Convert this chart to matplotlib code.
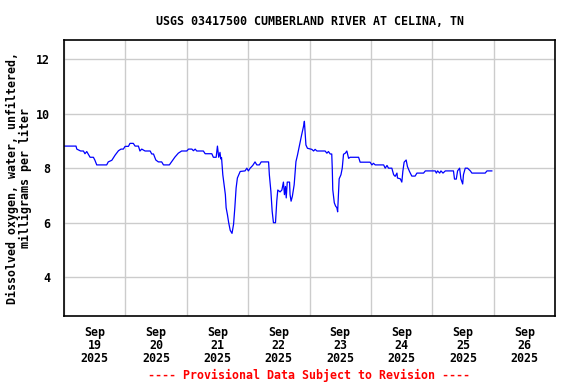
import matplotlib
matplotlib.use('Agg')
import matplotlib.pyplot as plt
import pandas as pd

# hours since 2025-09-19 00:00 and dissolved oxygen (mg/L)
hours = [0.0, 4.7, 5.0, 6.5, 7.6, 8.2, 8.9, 9.5, 10.2, 11.5, 12.1, 12.8, 16.7, 17.3, 18.7,
         20.0, 21.3, 22.3, 23.2, 23.9, 25.2, 25.8, 27.1, 27.8, 29.1, 29.7, 30.4, 31.7, 33.7,
         34.3, 35.0, 35.9, 36.9, 38.2, 38.9, 41.2, 42.1, 43.4, 44.7, 46.0, 48.0, 48.7, 50.0,
         50.6, 51.3, 51.9, 54.5, 55.2, 57.8, 58.4, 59.5, 60.0, 60.5, 61.0, 61.3, 61.6, 62.1,
         62.6, 63.1, 63.4, 63.9, 64.4, 65.0, 65.7, 66.3, 66.8, 67.3, 67.8, 68.9, 70.8, 71.5,
         72.1, 72.8, 73.8, 74.7, 75.4, 76.4, 77.1, 80.0, 80.3, 80.9, 81.4, 81.9, 82.7, 83.2,
         83.6, 84.5, 85.2, 85.8, 86.2, 86.6, 86.9, 87.3, 88.2, 88.4, 88.8, 89.3, 90.0, 90.7,
         91.3, 92.1, 92.9, 93.7, 94.0, 94.6, 95.2, 96.9, 97.6, 98.2, 98.9, 102.1, 102.8, 103.4,
         104.1, 104.7, 104.9, 105.1, 105.7, 106.2, 106.7, 107.0, 107.3, 107.6, 108.3, 108.8,
         109.3, 110.0, 110.6, 111.3, 111.9, 115.2, 115.8, 119.7, 120.4, 121.0, 121.7, 125.0,
         125.6, 126.3, 126.9, 128.2, 128.9, 129.5, 130.2, 130.4, 131.5, 132.1, 132.5, 133.0,
         133.8, 134.3, 135.1, 136.0, 137.3, 138.0, 140.6, 141.3, 145.2, 145.6, 146.1, 146.9,
         147.4, 148.2, 149.1, 152.3, 152.7, 153.4, 153.9, 154.7, 155.2, 155.9, 156.2, 156.9,
         157.8, 158.9, 159.5, 164.7, 165.4, 167.3]
oxygen = [8.81, 8.81, 8.70, 8.63, 8.63, 8.53, 8.61, 8.51, 8.40, 8.40, 8.29, 8.12, 8.12, 8.23, 8.29,
          8.48, 8.64, 8.70, 8.70, 8.80, 8.80, 8.91, 8.91, 8.81, 8.81, 8.63, 8.70, 8.63, 8.63,
          8.52, 8.52, 8.30, 8.23, 8.23, 8.12, 8.12, 8.24, 8.41, 8.55, 8.63, 8.63, 8.70, 8.70,
          8.64, 8.70, 8.63, 8.63, 8.53, 8.53, 8.40, 8.40, 8.81, 8.40, 8.58, 8.34, 8.39, 7.76,
          7.39, 7.03, 6.55, 6.30, 6.00, 5.72, 5.61, 5.94, 6.55, 7.27, 7.64, 7.88, 7.90, 8.00,
          7.90, 8.00, 8.10, 8.23, 8.12, 8.12, 8.23, 8.23, 7.76, 7.15, 6.42, 6.00, 6.00, 6.79,
          7.20, 7.13, 7.20, 7.49, 7.03, 7.33, 6.91, 7.49, 7.49, 7.03, 6.79, 6.97, 7.39, 8.24,
          8.48, 8.85, 9.21, 9.55, 9.72, 8.85, 8.73, 8.69, 8.63, 8.69, 8.63, 8.63, 8.55, 8.61,
          8.52, 8.52, 8.00, 7.21, 6.73, 6.61, 6.55, 6.40, 7.03, 7.61, 7.76, 8.00,
          8.51, 8.55, 8.63, 8.36, 8.40, 8.40, 8.22, 8.22, 8.12, 8.18, 8.12, 8.12,
          8.00, 8.10, 8.00, 8.00, 7.76, 7.70, 7.82, 7.64, 7.61, 7.49, 7.88, 8.22,
          8.30, 8.06, 7.88, 7.71, 7.71, 7.82, 7.82, 7.90, 7.90, 7.82, 7.90, 7.82,
          7.90, 7.82, 7.90, 7.90, 7.60, 7.60, 7.90, 8.00, 7.61, 7.42, 7.76, 8.00,
          8.00, 7.90, 7.82, 7.82, 7.90, 7.90]

start = pd.Timestamp('2025-09-19')
days = pd.date_range('2025-09-19', periods=9, freq='D')
day_labels = ['Sep\n19\n2025', 'Sep\n20\n2025', 'Sep\n21\n2025', 'Sep\n22\n2025',
              'Sep\n23\n2025', 'Sep\n24\n2025', 'Sep\n25\n2025', 'Sep\n26\n2025']
yticks = [4, 6, 8, 10, 12]

times = start + pd.to_timedelta(hours, unit='h')

font = {'family': 'DejaVu Sans Mono', 'weight': 'bold', 'size': 8.4}

fig = plt.figure(figsize=(5.76, 3.84), dpi=100)
ax = fig.add_axes([64 / 576, 1 - 316 / 384, 491 / 576, 276 / 384])

ax.plot(times, oxygen, color='#0000FF', linewidth=0.9)

ax.set_xlim(days[0], days[-1])
ax.set_ylim(2.58, 12.7)

ax.set_xticks(days)
ax.set_xticklabels([])
ax.set_xticks(days[:-1] + pd.Timedelta(hours=12), minor=True)
ax.set_xticklabels(day_labels, minor=True, fontdict=font, linespacing=1.0)
ax.set_yticks(yticks)
ax.set_yticklabels([str(v) for v in yticks], fontdict=font)
ax.tick_params(axis='both', which='both', length=0)
ax.tick_params(axis='x', which='minor', pad=7)
ax.tick_params(axis='y', pad=10)

ax.grid(True, which='major', color='#CCCCCC', linewidth=1)
ax.set_axisbelow(True)
for s in ax.spines.values():
    s.set_linewidth(1.2)
    s.set_color('black')

ax.set_title('USGS 03417500 CUMBERLAND RIVER AT CELINA, TN', fontdict=font, pad=11)
ax.set_ylabel('Dissolved oxygen, water, unfiltered,\nmilligrams per liter', fontdict=font,
              linespacing=1.0, labelpad=3)

fig.text((64 + 555) / 2 / 576, 1 - 375 / 384, '---- Provisional Data Subject to Revision ----',
         color='#FF0000', ha='center', va='center', **font)

fig.savefig('out.png', dpi=100)
